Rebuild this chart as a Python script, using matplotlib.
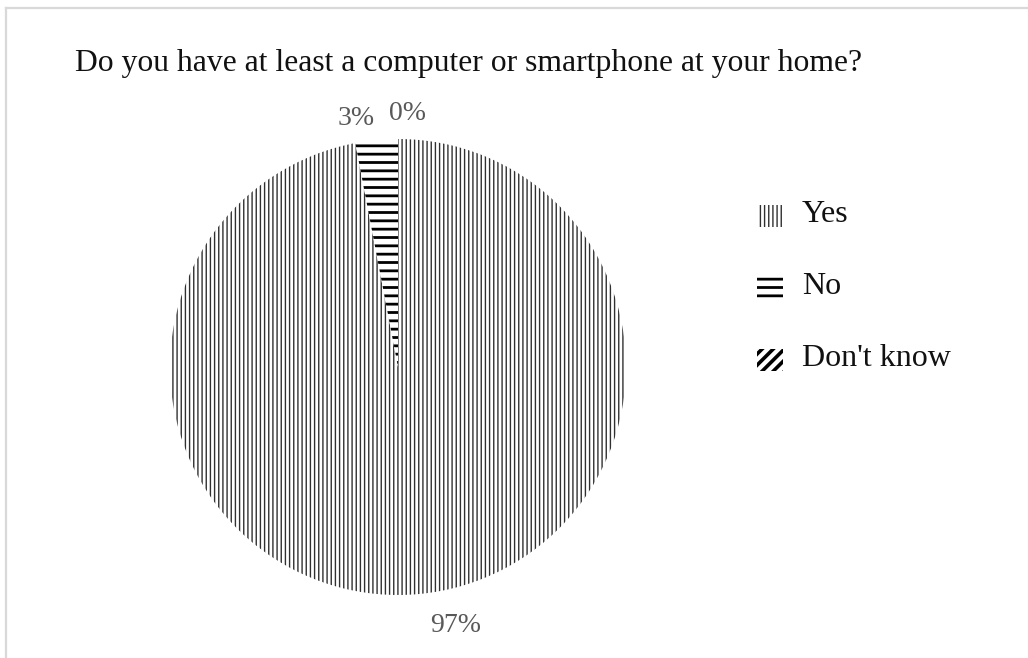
import matplotlib
matplotlib.use("Agg")
import matplotlib.pyplot as plt
from matplotlib.patches import Rectangle
import numpy as np

categories = ["Yes", "No", "Don't know"]
values = [97, 3, 0]
title = "Do you have at least a computer or smartphone at your home?"

hatches = ["||||", "--", "///"]
hatch_colors = ["#303030", "black", "black"]
hatch_lw = [1.0, 2.0, 2.6]

plt.rcParams['font.family'] = ['Liberation Serif', 'DejaVu Serif']

W, H = 1028, 658
fig = plt.figure(figsize=(W / 100, H / 100), dpi=100)

# frame lines (top and left)
fig.add_artist(plt.Line2D([6 / W, 1], [1 - 8 / H, 1 - 8 / H], color="#d9d9d9", lw=1.6, transform=fig.transFigure))
fig.add_artist(plt.Line2D([6 / W, 6 / W], [0, 1 - 8 / H], color="#d9d9d9", lw=1.6, transform=fig.transFigure))

cx, cy, r = 398, 367, 228
ax = fig.add_axes([(cx - r) / W, (H - cy - r) / H, 2 * r / W, 2 * r / H])

wedges, texts, autotexts = ax.pie(
    values, startangle=90, counterclock=False,
    autopct=lambda p: f"{p:.0f}%", pctdistance=1.11,
    textprops=dict(fontsize=20, color="#595959"),
)
for w, h, hc, lw in zip(wedges, hatches, hatch_colors, hatch_lw):
    w.set_facecolor("white")
    w.set_edgecolor(hc)
    w.set_linewidth(0)
    w.set_hatch(h)
    if hasattr(w, "set_hatch_linewidth"):
        w.set_hatch_linewidth(lw)

# small nudges of label positions to match reference layout
nudges = [(0.15, -0.03), (-0.08, -0.015), (0.04, 0.0)]
for t, (dx, dy) in zip(autotexts, nudges):
    x, y = t.get_position()
    t.set_position((x + dx, y + dy))
    t.set_clip_on(False)

ax.set_xlim(-1, 1)
ax.set_ylim(-1, 1)
ax.set_aspect("equal")

fig.text(75 / W, 1 - 63 / H, title, fontsize=22.8, va="center", ha="left", color="#111111")

# manual legend
for i, (lab, h, hc, lw) in enumerate(zip(categories, hatches, hatch_colors, hatch_lw)):
    yc = 216 + i * 72
    p = Rectangle((757 / W, 1 - (yc + 11) / H), 26 / W, 22 / H, transform=fig.transFigure,
                  facecolor="white", edgecolor=hc, linewidth=0, hatch=h)
    if hasattr(p, "set_hatch_linewidth"):
        p.set_hatch_linewidth(lw)
    fig.add_artist(p)
    fig.text(802 / W, 1 - (yc - 1) / H, lab, fontsize=23, va="center", ha="left", color="#111111")

fig.savefig("out.png", dpi=100)
